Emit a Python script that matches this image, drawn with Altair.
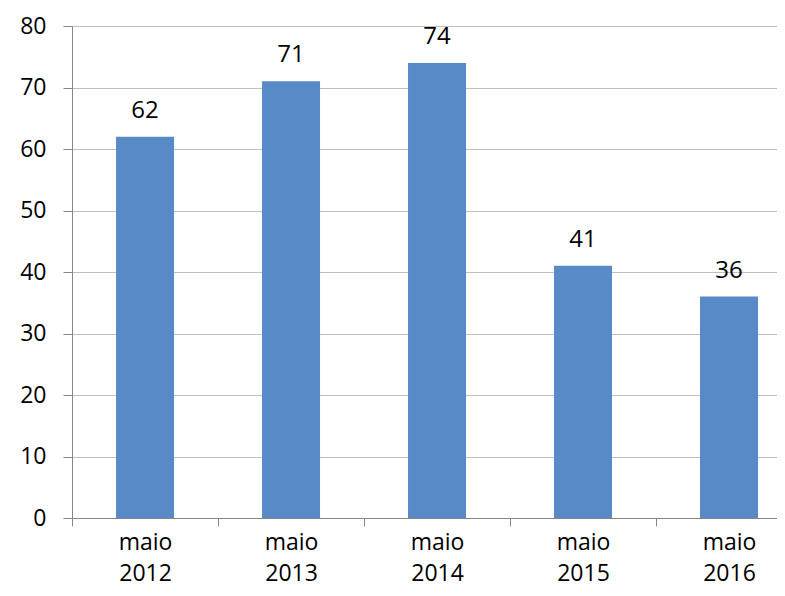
import altair as alt
import pandas as pd

categories = ["maio 2012", "maio 2013", "maio 2014", "maio 2015", "maio 2016"]
values = [62, 71, 74, 41, 36]

df = pd.DataFrame({"cat": categories, "val": values})

FONT = "Open Sans"
FS = 23
x = alt.X(
    "cat:N",
    sort=categories,
    title=None,
    scale=alt.Scale(paddingInner=0.6027, paddingOuter=0.2432, align=0.62),
    axis=alt.Axis(
        labelAngle=0,
        labelExpr="split(datum.label, ' ')",
        labelLineHeight=31.5,
        labelFontSize=23,
        labelFont=FONT,
        labelColor="#000000",
        labelPadding=5,
        bandPosition=0,
        tickOffset=-44,
        labelOffset=44,
        tickSize=8,
        tickColor="#868686",
        domainColor="#868686",
        grid=False,
    ),
)
y = alt.Y(
    "val:Q",
    title=None,
    scale=alt.Scale(domain=[0, 80], nice=False),
    axis=alt.Axis(
        values=[0, 10, 20, 30, 40, 50, 60, 70, 80],
        labelFontSize=FS,
        labelFont=FONT,
        labelColor="#000000",
        labelPadding=17,
        tickSize=9,
        tickColor="#868686",
        domainColor="#868686",
        gridColor="#BFBFBF",
        gridWidth=1,
    ),
)

bars = alt.Chart(df).mark_bar(color="#588AC8").encode(x=x, y=y)
text = alt.Chart(df).mark_text(
    font=FONT, fontSize=24, color="#000000", baseline="alphabetic", dy=-19
).encode(x=alt.X("cat:N", sort=categories), y="val:Q", text="val:Q")

chart = (
    alt.layer(bars, text)
    .properties(
        width=713,
        height=492,
        autosize=alt.AutoSizeParams(type="none"),
        padding={"left": 64, "top": 18, "right": -8, "bottom": 70},
    )
    .configure_view(stroke=None)
)

chart.save("out.html", embed_options={"renderer": "svg", "actions": False})
